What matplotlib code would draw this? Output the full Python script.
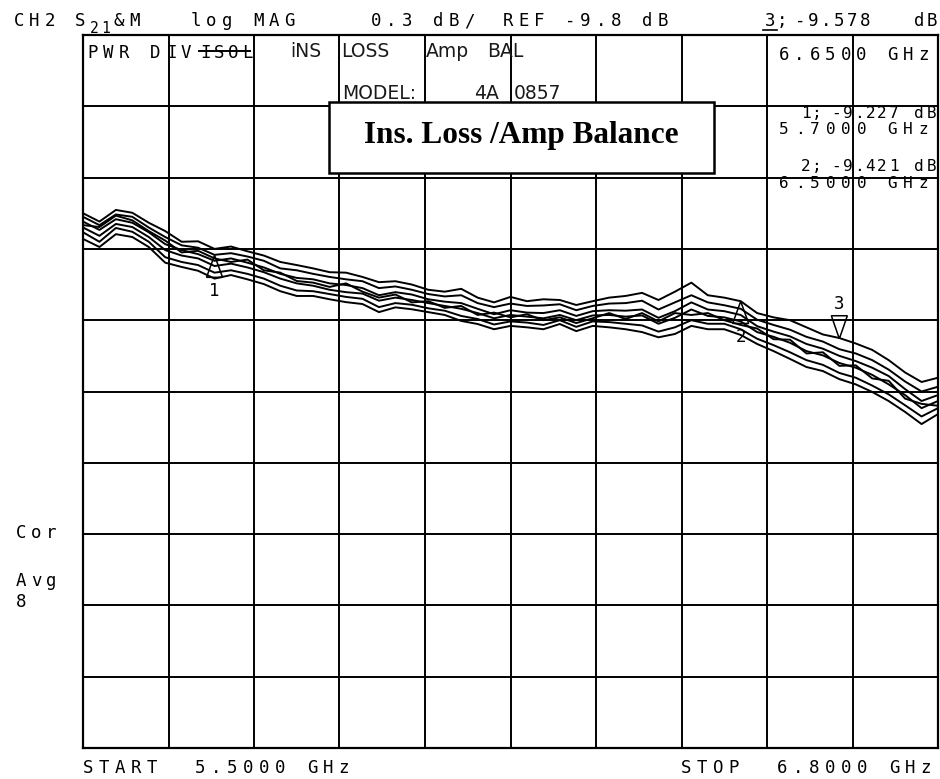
import matplotlib
matplotlib.use("Agg")
import numpy as np
import matplotlib.pyplot as plt
from matplotlib.patches import Polygon, Rectangle
from matplotlib.lines import Line2D

# sweep 5.5 - 6.8 GHz, trace values in dB
freq_ghz = np.linspace(5.5, 6.8, 53)

trace_1 = [-9.050, -9.085, -9.036, -9.048, -9.090, -9.125, -9.170, -9.168, -9.200, -9.190,
           -9.210, -9.228, -9.255, -9.268, -9.282, -9.298, -9.300, -9.318, -9.340, -9.336,
           -9.350, -9.372, -9.380, -9.368, -9.405, -9.425, -9.402, -9.420, -9.412, -9.415,
           -9.436, -9.420, -9.405, -9.398, -9.385, -9.415, -9.380, -9.342, -9.395, -9.405,
           -9.420, -9.470, -9.488, -9.500, -9.530, -9.560, -9.575, -9.598, -9.625, -9.668,
           -9.720, -9.760, -9.742]
trace_2 = [-9.065, -9.100, -9.055, -9.065, -9.110, -9.150, -9.185, -9.195, -9.225, -9.218,
           -9.232, -9.250, -9.282, -9.290, -9.305, -9.318, -9.328, -9.336, -9.365, -9.358,
           -9.372, -9.390, -9.400, -9.395, -9.428, -9.445, -9.430, -9.440, -9.438, -9.433,
           -9.458, -9.440, -9.430, -9.428, -9.418, -9.455, -9.425, -9.395, -9.425, -9.437,
           -9.452, -9.498, -9.520, -9.540, -9.570, -9.590, -9.622, -9.640, -9.668, -9.708,
           -9.758, -9.800, -9.780]
trace_3 = [-9.085, -9.120, -9.075, -9.090, -9.130, -9.180, -9.205, -9.222, -9.250, -9.240,
           -9.258, -9.278, -9.305, -9.322, -9.328, -9.345, -9.352, -9.365, -9.395, -9.382,
           -9.392, -9.412, -9.422, -9.428, -9.452, -9.475, -9.458, -9.468, -9.470, -9.458,
           -9.482, -9.462, -9.458, -9.460, -9.455, -9.490, -9.462, -9.425, -9.455, -9.462,
           -9.478, -9.525, -9.548, -9.568, -9.600, -9.620, -9.650, -9.672, -9.700, -9.735,
           -9.790, -9.840, -9.815]
trace_4 = [-9.110, -9.145, -9.095, -9.108, -9.150, -9.205, -9.228, -9.240, -9.272, -9.262,
           -9.278, -9.298, -9.325, -9.345, -9.355, -9.372, -9.382, -9.388, -9.418, -9.405,
           -9.415, -9.428, -9.440, -9.452, -9.470, -9.492, -9.478, -9.485, -9.492, -9.478,
           -9.500, -9.480, -9.478, -9.485, -9.480, -9.515, -9.490, -9.455, -9.482, -9.488,
           -9.505, -9.550, -9.570, -9.595, -9.630, -9.648, -9.680, -9.700, -9.730, -9.770,
           -9.815, -9.870, -9.840]
trace_5 = [-9.130, -9.170, -9.112, -9.128, -9.170, -9.235, -9.255, -9.268, -9.300, -9.290,
           -9.305, -9.325, -9.355, -9.375, -9.378, -9.390, -9.402, -9.410, -9.445, -9.428,
           -9.435, -9.450, -9.460, -9.482, -9.495, -9.518, -9.505, -9.510, -9.520, -9.500,
           -9.528, -9.505, -9.508, -9.515, -9.522, -9.548, -9.530, -9.500, -9.515, -9.515,
           -9.538, -9.578, -9.605, -9.635, -9.668, -9.688, -9.722, -9.742, -9.775, -9.812,
           -9.858, -9.905, -9.870]
trace_6 = [-9.158, -9.192, -9.138, -9.150, -9.192, -9.258, -9.276, -9.292, -9.325, -9.310,
           -9.328, -9.348, -9.378, -9.398, -9.398, -9.412, -9.424, -9.432, -9.466, -9.446,
           -9.454, -9.466, -9.478, -9.503, -9.516, -9.538, -9.524, -9.530, -9.538, -9.516,
           -9.546, -9.524, -9.530, -9.538, -9.550, -9.572, -9.558, -9.524, -9.538, -9.538,
           -9.562, -9.600, -9.630, -9.663, -9.697, -9.714, -9.748, -9.770, -9.802, -9.840,
           -9.886, -9.937, -9.895]
trace_7 = [-9.100, -9.108, -9.060, -9.080, -9.125, -9.165, -9.215, -9.208, -9.240, -9.255,
           -9.245, -9.290, -9.300, -9.335, -9.342, -9.360, -9.345, -9.380, -9.405, -9.392,
           -9.425, -9.420, -9.448, -9.440, -9.478, -9.468, -9.488, -9.475, -9.500, -9.488,
           -9.512, -9.492, -9.470, -9.495, -9.470, -9.505, -9.470, -9.478, -9.470, -9.500,
           -9.520, -9.535, -9.580, -9.582, -9.640, -9.635, -9.692, -9.690, -9.745, -9.755,
           -9.830, -9.852, -9.860]
traces = [trace_1, trace_2, trace_3, trace_4, trace_5, trace_6, trace_7]

marker_ids = ["1", "2", "3"]
marker_freq = [5.70, 6.50, 6.65]
marker_db = [-9.227, -9.421, -9.578]

W, H = 940, 779
MONO = "DejaVu Sans Mono"

fig = plt.figure(figsize=(9.4, 7.79), dpi=100)
ax = fig.add_axes([83 / W, 1 - 748 / H, 855 / W, 713 / H])
ax.set_xlim(5.5, 6.8)
ax.set_ylim(-11.3, -8.3)
ax.set_xticks(np.linspace(5.5, 6.8, 11))
ax.set_yticks(np.linspace(-11.3, -8.3, 11))
ax.set_axisbelow(True)
ax.grid(True, color="black", lw=1.4)
ax.tick_params(length=0, labelbottom=False, labelleft=False)
for sp in ax.spines.values():
    sp.set_linewidth(1.6)

for tr in traces:
    ax.plot(freq_ghz, tr, color="black", lw=1.4)

# marker triangles (size in pixels converted to data units)
dx = 1.3 / 855
dy = 3.0 / 713
for mid, f, v in zip(marker_ids, marker_freq, marker_db):
    if mid == "3":
        base = v + 23 * dy
        ax.add_patch(Polygon([[f, v], [f - 8 * dx, base], [f + 8 * dx, base]],
                             closed=True, fill=False, ec="black", lw=1.1))
        ax.text(f, base + 7 * dy, mid, ha="center", va="baseline", fontsize=12.5, family=MONO)
    else:
        base = v - 22 * dy
        ax.add_patch(Polygon([[f, v], [f - 8 * dx, base], [f + 8 * dx, base]],
                             closed=True, fill=False, ec="black", lw=1.1))
        ax.text(f, base - 19 * dy, mid, ha="center", va="baseline", fontsize=12.5, family=MONO)


def hp_text(x, y, s, pitch=15.5, size=12.5):
    # plotter font: one glyph per fixed cell, x = left edge, y = baseline (pixels)
    for i, ch in enumerate(s):
        if ch != " ":
            fig.text((x + 6 + i * pitch) / W, 1 - y / H, ch, ha="center", va="baseline",
                     fontsize=size, family=MONO)


def hand_text(x, y, s, size=13.5):
    fig.text(x / W, 1 - y / H, s, fontsize=size, family="DejaVu Sans",
             color="#1a1a1a", va="baseline")


def fig_line(x0, x1, y0, y1, lw=1.2):
    fig.add_artist(Line2D([x0 / W, x1 / W], [1 - y0 / H, 1 - y1 / H], color="black", lw=lw))


# header line
hp_text(13, 26, "CH2")
hp_text(74, 26, "S")
hp_text(88, 33, "21", pitch=12, size=10.5)
hp_text(113, 26, "&M")
hp_text(190, 26, "log MAG")
hp_text(370, 26, "0.3 dB/")
hp_text(502, 26, "REF -9.8 dB")
hp_text(764, 26, "3;", pitch=12)
fig_line(763, 777, 30, 30)
hp_text(794, 26, "-9.578", pitch=13)
hp_text(913, 26, "dB", pitch=13)

# marker readouts (two tightly packed lines per marker)
hp_text(778, 60, "6.6500 GHz")
hp_text(800, 118, "1;", pitch=11, size=11.5)
hp_text(830, 118, "-9.227", pitch=11.5, size=11.5)
hp_text(913, 118, "dB", pitch=13, size=11.5)
hp_text(778, 134, "5.7000 GHz", size=11.5)
hp_text(800, 171, "2;", pitch=11, size=11.5)
hp_text(830, 171, "-9.421", pitch=11.5, size=11.5)
hp_text(913, 171, "dB", pitch=13, size=11.5)
hp_text(778, 188, "6.5000 GHz", size=11.5)

# title row inside grid
hp_text(87, 58, "PWR D")
hp_text(166, 58, "IV", pitch=14)
hp_text(199, 58, "ISOL", pitch=14)
fig_line(199, 250, 51, 51, lw=1.4)
hand_text(290, 57, "iNS")
hand_text(341, 57, "LOSS")
hand_text(426, 57, "Amp")
hand_text(487, 57, "BAL")
hand_text(342, 99, "MODEL:")
hand_text(474, 99, "4A")
hand_text(514, 99, "0857")

# title box
fig.add_artist(Rectangle((329 / W, 1 - 173 / H), (714 - 329) / W, (173 - 102) / H,
                         transform=fig.transFigure, fc="white", ec="black", lw=1.8))
fig.text(521 / W, 1 - 143 / H, "Ins. Loss /Amp Balance", ha="center", va="baseline",
         fontsize=22.5, fontweight="bold", family="Liberation Serif")

# left status
hp_text(15, 538, "Cor", pitch=15)
hp_text(15, 586, "Avg", pitch=15)
hp_text(15, 607, "8")

# footer
hp_text(82, 773, "START  5.5000 GHz", pitch=16)
hp_text(680, 773, "STOP  6.8000 GHz", pitch=16)

fig.savefig("out.png", dpi=100, facecolor="white")
